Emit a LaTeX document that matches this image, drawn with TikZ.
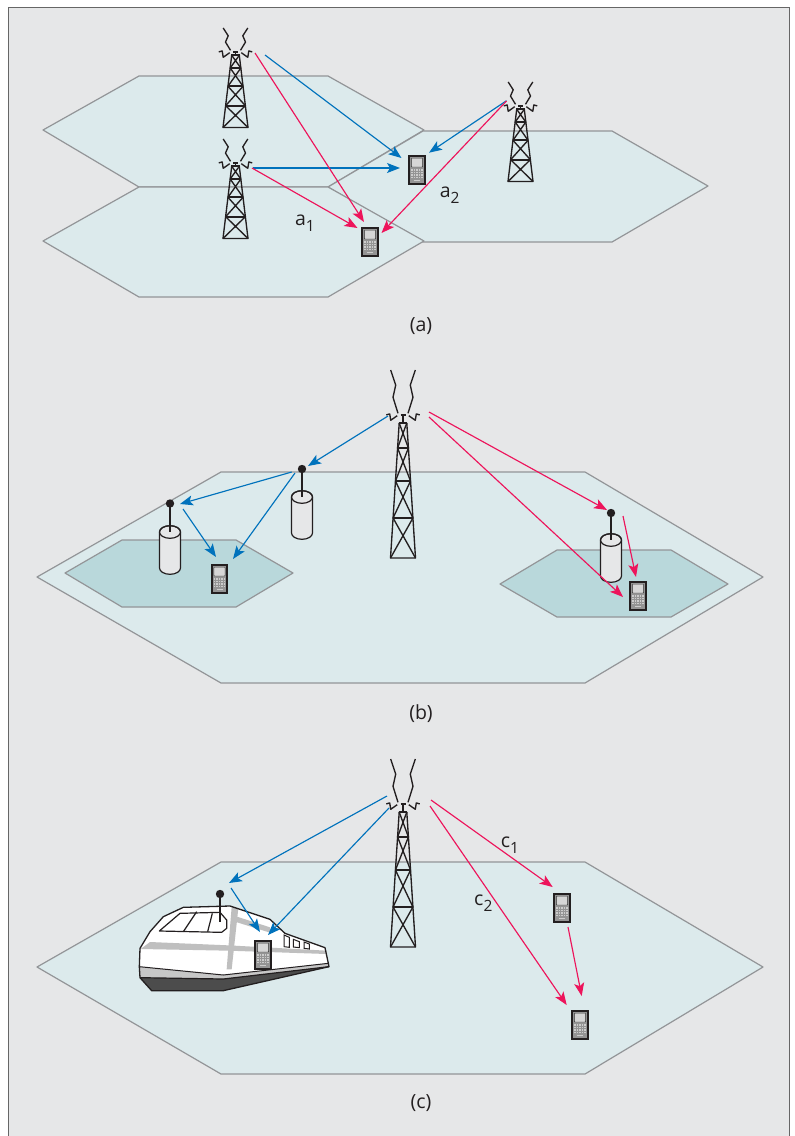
\documentclass[tikz,border=0pt]{standalone}
\usepackage{fontspec}
\setmainfont{Open Sans}
\usetikzlibrary{arrows.meta}
\definecolor{bgc}{HTML}{E6E7E8}
\definecolor{hexc}{HTML}{DCEAEC}
\definecolor{hexd}{HTML}{B9D8DB}
\definecolor{edgec}{HTML}{939598}
\definecolor{bluec}{HTML}{0072BC}
\definecolor{redc}{HTML}{ED145B}
\definecolor{inkc}{HTML}{231F20}
\newcommand{\subtxt}[2]{#1\raisebox{-6pt}{\fontsize{15.5}{18}\selectfont #2}}
\tikzset{
  x=1pt,y=-1pt,
  hexa/.style={fill=hexc,draw=edgec,line width=1.2pt,line join=round},
  hexb/.style={fill=hexd,draw=edgec,line width=1.2pt,line join=round},
  sigb/.style={draw=bluec,line width=1.15pt,-{Stealth[length=13pt,width=10pt,inset=3pt]}},
  sigr/.style={draw=redc,line width=1.15pt,-{Stealth[length=13pt,width=10pt,inset=3pt]}},
  lbl/.style={font=\fontsize{19.5}{22}\selectfont,text=inkc,inner sep=0pt,anchor=base},
  tw/.style={draw=inkc,line width=1.35pt,line join=round},
  twh/.style={draw=inkc,line width=2pt},
}
\newcommand{\towerdraw}[8]{%
\begin{scope}[shift={(#1,#2)}]
  \draw[tw] (-12.3,0)--(-7.3,#3*0.35)--(-10,#3*0.63)--(-5,#3)
            (12.3,0)--(7.3,#3*0.35)--(10,#3*0.63)--(5,#3);
  \draw[tw] (-16.7,#3+1.6)--(-13.3,#3+0.6)--(-12.3,#3+7)--(-5.8,#3+2.4)
            (16.7,#3+1.6)--(13.3,#3+0.6)--(12.3,#3+7)--(5.8,#3+2.4);
  \draw[twh] (-2.5,#3+1.2)--(2.5,#3+1.2);
  \draw[tw] (0,#3+1.2)--(0,#4);
  \pgfmathsetmacro{\ya}{#4}\pgfmathsetmacro{\yb}{#5}\pgfmathsetmacro{\yc}{#6}\pgfmathsetmacro{\yd}{#7}\pgfmathsetmacro{\ye}{#8}
  \pgfmathsetmacro{\wa}{3.8}\pgfmathsetmacro{\we}{12.5}
  \pgfmathsetmacro{\wb}{\wa+(\we-\wa)*(\yb-\ya)/(\ye-\ya)}
  \pgfmathsetmacro{\wc}{\wa+(\we-\wa)*(\yc-\ya)/(\ye-\ya)}
  \pgfmathsetmacro{\wd}{\wa+(\we-\wa)*(\yd-\ya)/(\ye-\ya)}
  \draw[tw] (-\wa,\ya)--(-\we,\ye)--(\we,\ye)--(\wa,\ya);
  \draw[twh] (-\wa-0.5,\ya)--(\wa+0.5,\ya);
  \draw[twh] (-\wb,\yb)--(\wb,\yb) (-\wc,\yc)--(\wc,\yc) (-\wd,\yd)--(\wd,\yd);
  \draw[tw] (-\wa,\ya)--(\wb,\yb) (\wa,\ya)--(-\wb,\yb)
            (-\wb,\yb)--(\wc,\yc) (\wb,\yb)--(-\wc,\yc)
            (-\wc,\yc)--(\wd,\yd) (\wc,\yc)--(-\wd,\yd)
            (-\wd,\yd)--(\we,\ye) (\wd,\yd)--(-\we,\ye);
\end{scope}}
\newcommand{\smalltower}[2]{\towerdraw{#1}{#2}{22.3}{27.3}{40}{58.3}{77.7}{99.5}}
\newcommand{\bigtower}[2]{\towerdraw{#1}{#2}{43.3}{53}{78}{111}{148}{188}}
\newcommand{\handset}[3]{%
\begin{scope}[shift={(#2,#3)}]
  \node[fill=inkc,draw=none,minimum width=17.5pt,minimum height=30pt,inner sep=0pt] (#1) at (0,0) {};
  \fill[black!42] (-6.8,-13)rectangle(6.8,13);
  \fill[black!16,draw=black!80,line width=0.4pt,rounded corners=0.6pt] (-5.6,-11.8)rectangle(5.6,-3);
  \foreach \r in {0,...,3}\foreach \c in {0,...,4}
    \fill[black!20] (-5.6+\c*2.5,-0.6+\r*2.5) rectangle ++(1.4,1.3);
  \fill[black!20] (-3,10.2) rectangle (3,11.2);
\end{scope}}
\newcommand{\mastcyl}[4]{%
  \draw[inkc,line width=1.2pt,fill=bgc] (#2-10.5,#4) -- (#2-10.5,#4+36)
     arc[start angle=180,end angle=0,x radius=10.5,y radius=6.3] -- (#2+10.5,#4)
     arc[start angle=0,end angle=-180,x radius=10.5,y radius=6.3] -- cycle;
  \draw[inkc,line width=1.2pt] (#2-10.5,#4) arc[start angle=180,end angle=540,x radius=10.5,y radius=6.3];
  \draw[inkc,line width=2pt] (#2,#3) -- (#2,#4);
  \node[circle,fill=inkc,minimum size=8.4pt,inner sep=0pt] (#1) at (#2,#3) {};
}
\begin{document}
\begin{tikzpicture}
\useasboundingbox (0,0) rectangle (795,1136);
\fill[white] (0,0) rectangle (795,1136);
\fill[bgc] (8,7) rectangle (790,1136);
\draw[black!60,line width=1.4pt] (8.6,1136)--(8.6,7.6)--(789.6,7.6)--(789.6,1136);

% panel a cells
\draw[hexa] (43,130)--(139,76)--(328,76)--(424,130)--(328,187)--(139,187)--cycle;
\draw[hexa] (328,187)--(423,131)--(612,131)--(708,186)--(612,242)--(423,242)--cycle;
\draw[hexa] (43,241)--(139,187)--(328,187)--(424,241)--(328,297)--(139,297)--cycle;

\smalltower{235.5}{28}
\smalltower{235.5}{139}
\smalltower{520.5}{82}
\handset{ha}{417}{170}
\handset{hb}{370}{242}

\coordinate (a1s) at (265,55);   \coordinate (a1e) at (401.5,158);
\coordinate (a2s) at (253,168);  \coordinate (a2e) at (400,168);
\coordinate (a3s) at (506.5,100.7);  \coordinate (a3e) at (429,152.7);
\coordinate (a4s) at (255,53);   \coordinate (a4e) at (364,222);
\coordinate (a5s) at (252,168);  \coordinate (a5e) at (357.5,228);
\coordinate (a6s) at (506.5,101);  \coordinate (a6e) at (381.5,233);
\draw[sigb] (a1s)--(a1e);
\draw[sigb] (a2s)--(a2e);
\draw[sigb] (a3s)--(a3e);
\draw[sigr] (a4s)--(a4e);
\draw[sigr] (a5s)--(a5e);
\draw[sigr] (a6s)--(a6e);
\node[lbl] (la1) at (305,225) {\subtxt{a}{1}};
\node[lbl] (la2) at (449.7,197) {\subtxt{a}{2}};
\node[lbl] (capa) at (421,331) {(a)};

% panel b
\draw[hexa] (37,577)--(221,472)--(585,472)--(763,577)--(585,683)--(221,683)--cycle;
\draw[hexb] (65,573)--(122,540)--(236,540)--(293,573)--(236,607)--(122,607)--cycle;
\draw[hexb] (500,584)--(557,550)--(671,550)--(728,584)--(671,617)--(557,617)--cycle;
\bigtower{403}{370}
\mastcyl{mb}{302}{469}{497}
\mastcyl{ma}{170}{503.5}{532}
\mastcyl{mc}{611}{513}{540}
\handset{hc}{219.5}{579}
\handset{hd}{638}{596}

\coordinate (b1s) at (388,416);    \coordinate (b1e) at (308,466);
\coordinate (b2s) at (291.7,472);  \coordinate (b2e) at (180,504);
\coordinate (b3s) at (295,473);    \coordinate (b3e) at (233,559);
\coordinate (b4s) at (183,509);    \coordinate (b4e) at (216,557);
\coordinate (b5s) at (429,412);    \coordinate (b5e) at (607,510);
\coordinate (b6s) at (429,417);    \coordinate (b6e) at (623,597);
\coordinate (b7s) at (623,516);    \coordinate (b7e) at (636,577);
\draw[sigb] (b1s)--(b1e);
\draw[sigb] (b2s)--(b2e);
\draw[sigb] (b3s)--(b3e);
\draw[sigb] (b4s)--(b4e);
\draw[sigr] (b5s)--(b5e);
\draw[sigr] (b6s)--(b6e);
\draw[sigr] (b7s)--(b7e);
\node[lbl] (capb) at (421,719) {(b)};

% panel c
\draw[hexa] (37,967)--(221,862)--(585,862)--(763,967)--(585,1074)--(221,1074)--cycle;
\bigtower{403}{759}

% train
\begin{scope}[shift={(130,880)},scale=1/3]
  \fill[white] (30,205)--(60,155)--(100,110)--(160,82)--(300,78)--(420,118)--(465,160)--(585,203)--(595,250)--(280,285)--(28,260)--cycle;
  \fill[black!25] (305,80)--(325,85)--(305,268)--(290,268)--cycle;
  \fill[black!25] (32,207)--(60,186)--(295,196)--(590,212)--(590,222)--(295,212)--cycle;
  \fill[black!25] (315,108)--(420,142)--(420,158)--(315,125)--cycle;
  \fill[black!22] (28,260)--(280,285)--(595,250)--(597,260)--(280,297)--(30,293)--cycle;
  \fill[black!70] (30,293)--(280,297)--(597,260)--(280,332)--(65,332)--cycle;
  \draw[inkc,line width=1.3pt,line join=round] (30,205)--(60,155)--(100,110)--(160,82)--(300,78)--(420,118)--(465,160)--(585,203)--(595,250)--(597,260)--(280,332)--(65,332)--(30,293)--(28,260)--cycle;
  \draw[inkc,line width=1pt] (28,260)--(280,285)--(595,250);
  \draw[inkc,line width=1.2pt] (30,293)--(280,297)--(597,260);
  \fill[white,draw=inkc,line width=1.2pt,line join=round] (88,153)--(150,100)--(270,97)--(290,120)--(290,145)--(275,157)--cycle;
  \draw[inkc,line width=1.2pt] (200,95)--(160,155) (247,100)--(233,155);
  \draw[inkc,line width=1pt,fill=white] (462,165)--(478,172)--(478,202)--(462,200)--cycle;
  \draw[inkc,line width=1pt,fill=white] (490,178)--(508,185)--(508,203)--(490,201)--cycle;
  \draw[inkc,line width=1pt,fill=white] (522,186)--(538,192)--(538,207)--(522,205)--cycle;
\end{scope}
\draw[inkc,line width=2pt] (220,894)--(220,922);
\node[circle,fill=inkc,minimum size=8.4pt,inner sep=0pt] (mt) at (220,894) {};
\handset{he}{263}{955}
\handset{hf}{562}{908}
\handset{hg}{580}{1025}

\coordinate (c1s) at (387,796);  \coordinate (c1e) at (229,883);
\coordinate (c2s) at (231,888);  \coordinate (c2e) at (260,932);
\coordinate (c3s) at (389,808);  \coordinate (c3e) at (268,935);
\coordinate (c4s) at (431,800);  \coordinate (c4e) at (552.7,887);
\coordinate (c5s) at (430,806);  \coordinate (c5e) at (566.7,1005);
\coordinate (c6s) at (568,927);  \coordinate (c6e) at (581.7,996);
\draw[sigb] (c1s)--(c1e);
\draw[sigb] (c2s)--(c2e);
\draw[sigb] (c3s)--(c3e);
\draw[sigr] (c4s)--(c4e);
\draw[sigr] (c5s)--(c5e);
\draw[sigr] (c6s)--(c6e);
\node[lbl] (lc1) at (510,847) {\subtxt{c}{1}};
\node[lbl] (lc2) at (483.3,905) {\subtxt{c}{2}};
\node[lbl] (capc) at (421,1108) {(c)};
\end{tikzpicture}
\end{document}
